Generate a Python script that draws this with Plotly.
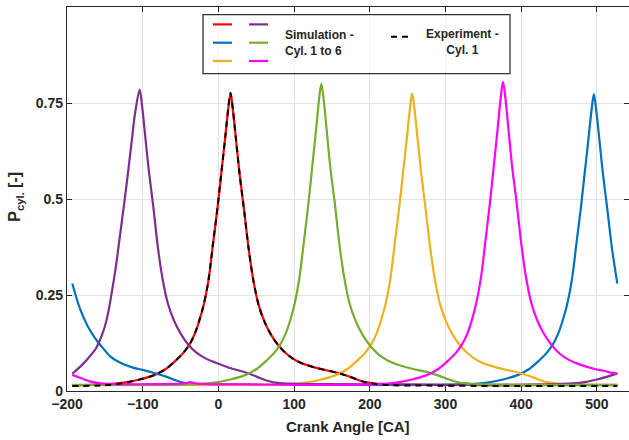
import plotly.graph_objects as go

# ---------------- data ----------------
cyl1_x = [-193, -150, -125, -104, -84, -69, -56, -46, -38, -31, -25, -19, -13, -7, -1, 4, 9, 13, 16, 19, 23, 28, 34, 40, 46, 53, 61, 70, 80, 91, 103, 116, 136, 156, 171, 183, 194, 208, 231, 280, 316, 326, 340, 420, 527]
cyl1_y = [0.014, 0.017, 0.022, 0.03, 0.042, 0.058, 0.08, 0.1, 0.122, 0.15, 0.185, 0.228, 0.29, 0.385, 0.48, 0.57, 0.66, 0.735, 0.776, 0.735, 0.66, 0.565, 0.47, 0.37, 0.29, 0.225, 0.18, 0.145, 0.117, 0.095, 0.079, 0.068, 0.057, 0.048, 0.039, 0.03, 0.023, 0.019, 0.017, 0.016, 0.016, 0.02, 0.016, 0.015, 0.015]

cyl2_x = [-193, -183, -173, -163, -153, -143, -128, -113, -100, -85, -70, -58, -47, -30, 0, 100, 250, 330, 355, 376, 396, 411, 424, 434, 442, 449, 455, 461, 467, 473, 479, 484, 489, 493, 496, 499, 503, 508, 514, 520, 527]
cyl2_y = [0.28, 0.215, 0.17, 0.138, 0.113, 0.09, 0.072, 0.061, 0.055, 0.047, 0.038, 0.029, 0.022, 0.018, 0.017, 0.016, 0.016, 0.018, 0.022, 0.03, 0.042, 0.058, 0.08, 0.1, 0.122, 0.15, 0.185, 0.228, 0.29, 0.385, 0.48, 0.57, 0.66, 0.733, 0.773, 0.733, 0.66, 0.565, 0.47, 0.37, 0.28]

cyl3_x = [-193, 60, 100, 115, 136, 156, 171, 184, 194, 202, 209, 215, 221, 227, 233, 239, 244, 249, 253, 256, 259, 263, 268, 274, 280, 286, 293, 301, 310, 320, 331, 343, 356, 376, 396, 411, 423, 434, 448, 471, 527]
cyl3_y = [0.015, 0.016, 0.018, 0.022, 0.03, 0.042, 0.058, 0.08, 0.1, 0.122, 0.15, 0.185, 0.228, 0.29, 0.385, 0.48, 0.57, 0.66, 0.735, 0.775, 0.735, 0.66, 0.565, 0.47, 0.37, 0.29, 0.225, 0.18, 0.145, 0.117, 0.095, 0.079, 0.068, 0.057, 0.048, 0.039, 0.03, 0.023, 0.019, 0.017, 0.016]

cyl4_x = [-193, -180, -170, -162, -155, -150, -145, -141, -136, -131, -125, -119, -114, -110, -104, -101, -97, -92, -86, -80, -74, -67, -59, -50, -40, -29, -17, -4, 12, 33, 46, 56, 66, 78, 96, 140, 200, 320, 430, 460, 480, 500, 515, 527]
cyl4_y = [0.045, 0.068, 0.09, 0.11, 0.14, 0.168, 0.21, 0.255, 0.316, 0.39, 0.48, 0.575, 0.66, 0.725, 0.785, 0.745, 0.67, 0.575, 0.48, 0.375, 0.295, 0.23, 0.185, 0.15, 0.121, 0.1, 0.085, 0.074, 0.062, 0.05, 0.041, 0.033, 0.026, 0.021, 0.019, 0.018, 0.017, 0.016, 0.017, 0.019, 0.022, 0.03, 0.038, 0.046]

cyl5_x = [-193, -100, -30, -5, 16, 36, 51, 64, 74, 82, 89, 95, 101, 107, 113, 119, 124, 129, 133, 136, 139, 143, 148, 154, 160, 166, 173, 181, 190, 200, 211, 223, 236, 256, 276, 291, 303, 314, 328, 351, 440, 527]
cyl5_y = [0.016, 0.016, 0.018, 0.022, 0.03, 0.042, 0.058, 0.08, 0.1, 0.122, 0.15, 0.185, 0.23, 0.295, 0.39, 0.49, 0.585, 0.68, 0.76, 0.80, 0.76, 0.68, 0.58, 0.485, 0.38, 0.298, 0.23, 0.184, 0.148, 0.119, 0.096, 0.08, 0.069, 0.058, 0.049, 0.04, 0.031, 0.024, 0.019, 0.017, 0.016, 0.016]

cyl6_x = [-193, -181, -170, -156, -130, -80, -45, -38, -30, -15, 40, 120, 210, 235, 256, 276, 291, 304, 314, 322, 329, 335, 341, 347, 353, 359, 364, 369, 373, 376, 379, 383, 388, 394, 400, 406, 413, 421, 430, 440, 451, 463, 476, 496, 510, 520, 527]
cyl6_y = [0.042, 0.033, 0.025, 0.02, 0.018, 0.018, 0.02, 0.023, 0.02, 0.018, 0.017, 0.016, 0.018, 0.022, 0.03, 0.042, 0.058, 0.08, 0.1, 0.122, 0.15, 0.186, 0.232, 0.297, 0.395, 0.495, 0.59, 0.685, 0.765, 0.805, 0.765, 0.685, 0.585, 0.49, 0.385, 0.3, 0.232, 0.185, 0.149, 0.12, 0.097, 0.081, 0.07, 0.058, 0.052, 0.047, 0.045]

exp_x = [-193, -150, -125, -104, -84, -69, -56, -46, -38, -31, -25, -19, -13, -7, -1, 4, 9, 13, 16, 19, 23, 28, 34, 40, 46, 53, 61, 70, 80, 91, 103, 116, 136, 156, 171, 183, 194, 208, 231, 280, 380, 527]
exp_y = [0.013, 0.015, 0.021, 0.03, 0.042, 0.058, 0.08, 0.1, 0.122, 0.15, 0.185, 0.228, 0.29, 0.385, 0.48, 0.57, 0.66, 0.735, 0.776, 0.735, 0.66, 0.565, 0.47, 0.37, 0.29, 0.225, 0.18, 0.145, 0.117, 0.095, 0.079, 0.068, 0.057, 0.048, 0.039, 0.03, 0.023, 0.018, 0.015, 0.014, 0.013, 0.013]

x_ticks = [-200, -100, 0, 100, 200, 300, 400, 500]
y_ticks = [0, 0.25, 0.5, 0.75, 1]
y_tick_text = ["0", "0.25", "0.5", "0.75", "1"]

sim_series = [
    ("Cyl. 1", cyl1_x, cyl1_y, "#FF0000"),
    ("Cyl. 2", cyl2_x, cyl2_y, "#0072BD"),
    ("Cyl. 3", cyl3_x, cyl3_y, "#EDB120"),
    ("Cyl. 4", cyl4_x, cyl4_y, "#7E2F8E"),
    ("Cyl. 5", cyl5_x, cyl5_y, "#77AC30"),
    ("Cyl. 6", cyl6_x, cyl6_y, "#FF00FF"),
]

# ---------------- figure ----------------
fig = go.Figure()
for name, xs, ys, col in sim_series:
    fig.add_trace(go.Scatter(x=xs, y=ys, mode="lines", name=name,
                             line=dict(color=col, width=2.2, shape="spline", smoothing=0.9)))
fig.add_trace(go.Scatter(x=exp_x, y=exp_y, mode="lines", name="Experiment",
                         line=dict(color="black", width=2, dash="6px,5px", shape="spline", smoothing=0.9)))

TXT = "#262626"
FONT = "Liberation Sans, Arial, sans-serif"

fig.update_layout(
    width=629, height=440,
    margin=dict(l=67, r=0, t=7, b=49),
    paper_bgcolor="white", plot_bgcolor="white",
    showlegend=False,
    font=dict(family=FONT, color=TXT),
)
fig.update_xaxes(
    range=[-200, 542.4], tickvals=x_ticks, ticks="inside", ticklen=5, tickcolor=TXT,
    showgrid=True, gridcolor="#e3e3e3", gridwidth=1, zeroline=False,
    showline=True, linecolor=TXT, linewidth=1.3, mirror="ticks",
    tickfont=dict(size=14, color=TXT, family=FONT, weight="bold"),
)
fig.update_yaxes(
    range=[0, 1], tickvals=y_ticks, ticktext=y_tick_text, ticks="inside", ticklen=5, tickcolor=TXT,
    showgrid=True, gridcolor="#e3e3e3", gridwidth=1, zeroline=False,
    showline=True, linecolor=TXT, linewidth=1.3, mirror="ticks",
    tickfont=dict(size=14, color=TXT, family=FONT, weight="bold"),
)

W = 562.0
H = 384.0
def px(xp):
    return (xp - 67) / W
def py(yp):
    return (391.3 - yp) / H

annotations = [
    dict(text="Crank Angle [CA]", x=px(348), y=py(427), xref="paper", yref="paper",
         showarrow=False, font=dict(size=15, color=TXT, family=FONT, weight="bold"),
         xanchor="center", yanchor="middle"),
    dict(text="P<sub>cyl.</sub> [-]", x=px(16), y=py(197), xref="paper", yref="paper",
         showarrow=False, textangle=-90, font=dict(size=16, color=TXT, family=FONT, weight="bold"),
         xanchor="center", yanchor="middle"),
    dict(text="Simulation -<br>Cyl. 1 to 6", x=px(283), y=py(43), xref="paper", yref="paper",
         showarrow=False, align="left", font=dict(size=12, color=TXT, family=FONT, weight="bold"),
         xanchor="left", yanchor="middle"),
    dict(text="Experiment -<br>Cyl. 1", x=px(462), y=py(42), xref="paper", yref="paper",
         showarrow=False, align="center", font=dict(size=12, color=TXT, family=FONT, weight="bold"),
         xanchor="center", yanchor="middle"),
]

shapes = [
    dict(type="rect", xref="paper", yref="paper", x0=px(203), x1=px(510), y0=py(74), y1=py(15),
         line=dict(color="#333333", width=1.3), fillcolor="rgba(255,255,255,0.55)", layer="above"),
]
legend_samples = [
    (213, 232, 24.7, "#FF0000"), (249, 268, 24.7, "#7E2F8E"),
    (213, 232, 43.0, "#0072BD"), (249, 268, 43.0, "#77AC30"),
    (213, 232, 61.3, "#EDB120"), (249, 268, 61.3, "#FF00FF"),
]
for x0, x1, yy, col in legend_samples:
    shapes.append(dict(type="line", xref="paper", yref="paper", x0=px(x0), x1=px(x1),
                       y0=py(yy), y1=py(yy), line=dict(color=col, width=2.2), layer="above"))
shapes.append(dict(type="line", xref="paper", yref="paper", x0=px(391), x1=px(411),
                   y0=py(37), y1=py(37), line=dict(color="black", width=2, dash="6px,5px"), layer="above"))

fig.update_layout(annotations=annotations, shapes=shapes)
fig.write_html("out.html")
